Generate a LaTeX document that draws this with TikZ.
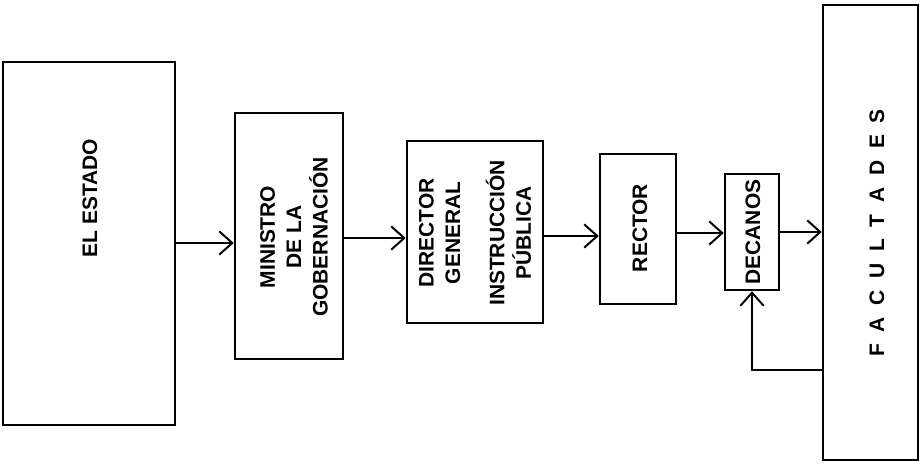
\documentclass[tikz,border=0pt]{standalone}
\usepackage{fontspec}
\setmainfont{Liberation Sans}
\usepackage{tikz}
\usetikzlibrary{arrows.meta}

\begin{document}
\begin{tikzpicture}[
        x=0.03cm, y=-0.03cm,
        box/.style={rectangle, draw=black, line width=2.2pt, inner sep=0pt},
        txt/.style={rotate=90, align=center, inner sep=0pt, font=\fontsize{17.9pt}{22.5pt}\selectfont\bfseries},
        arrow/.style={-{Straight Barb[length=3.9mm, width=7mm, line width=1.7pt]}, line width=1.8pt}
    ]
        \useasboundingbox (0,0) rectangle (921,466);

        % boxes
        \node[box, minimum width=5.16cm, minimum height=10.89cm] (estado) at (89,243.5) {};
        \node[box, minimum width=3.24cm, minimum height=7.38cm] (ministro) at (289,236) {};
        \node[box, minimum width=4.08cm, minimum height=5.46cm] (director) at (475,232) {};
        \node[box, minimum width=2.28cm, minimum height=4.5cm] (rector) at (638,229) {};
        \node[box, minimum width=1.62cm, minimum height=3.48cm] (decanos) at (752,232) {};
        \node[box, minimum width=2.85cm, minimum height=13.65cm] (facultades) at (870.5,232.5) {};

        % texts
        \node[txt] (estadotxt) at (90,198) {EL ESTADO};
        \node[txt] (ministrotxt) at (294,237) {MINISTRO\\DE LA\\GOBERNACIÓN};
        \node[txt] (directortxt) at (475,233) {DIRECTOR\\GENERAL\\[15.4pt]INSTRUCCIÓN\\PÚBLICA};
        \node[txt] (rectortxt) at (640,228) {RECTOR};
        \node[txt] (decanostxt) at (753,232) {DECANOS};
        \node[txt] (facultadestxt) at (877,233) {\spaceskip=10pt F A C U L T A D E S};

        % arrow heights
        \coordinate (h1) at (0,243);
        \coordinate (h2) at (0,238);
        \coordinate (h3) at (0,236);
        \coordinate (h4) at (0,233);
        \coordinate (h5) at (0,232);
        \coordinate (hb) at (0,370);

        \draw[arrow] (estado.east |- h1) -- (ministro.west |- h1);
        \draw[arrow] (ministro.east |- h2) -- (director.west |- h2);
        \draw[arrow] (director.east |- h3) -- (rector.west |- h3);
        \draw[arrow] (rector.east |- h4) -- (decanos.west |- h4);
        \draw[arrow] (decanos.east |- h5) -- (facultades.west |- h5);
        \draw[arrow] (facultades.west |- hb) -| (decanos.south);
    \end{tikzpicture}
\end{document}
